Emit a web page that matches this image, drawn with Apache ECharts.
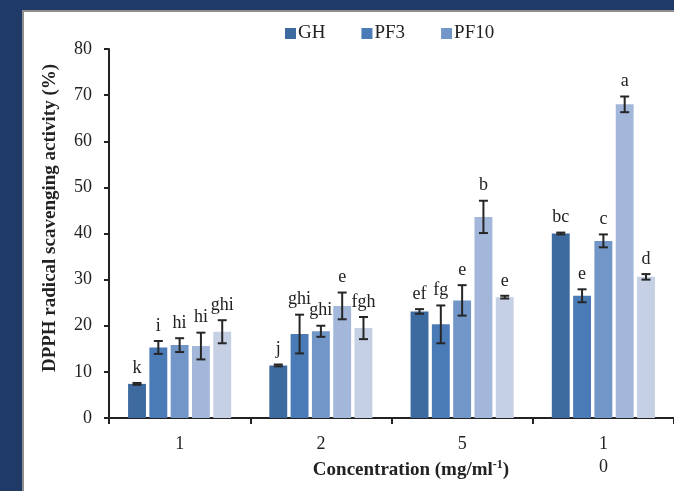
<!DOCTYPE html>
<html>
<head>
<meta charset="utf-8">
<script src="https://cdn.jsdelivr.net/npm/echarts@6/dist/echarts.min.js"></script>
<style>
html,body{margin:0;padding:0;background:#1f3a66;}
#chart{width:674px;height:491px;}
</style>
</head>
<body>
<div id="chart"></div>
<script>
// ---- data ----
const categories = ['1', '2', '5', '10'];
const tickLabels = ['1', '2', '5', '1\n0'];
const seriesNames = ['GH', 'PF3', 'PF10', 'Series 4', 'Series 5'];
const legendNames = ['GH', 'PF3', 'PF10'];
const ghValues = [7.4, 11.4, 23.1, 40.0];
const ghErrors = [0.2, 0.2, 0.5, 0.2];
const ghLetters = ['k', 'j', 'ef', 'bc'];
const pf3Values = [15.3, 18.2, 20.3, 26.5];
const pf3Errors = [1.4, 4.2, 4.1, 1.4];
const pf3Letters = ['i', 'ghi', 'fg', 'e'];
const pf10Values = [15.8, 18.8, 25.5, 38.4];
const pf10Errors = [1.5, 1.2, 3.3, 1.4];
const pf10Letters = ['hi', 'ghi', 'e', 'c'];
const s4Values = [15.6, 24.3, 43.6, 68.0];
const s4Errors = [2.9, 2.9, 3.5, 1.7];
const s4Letters = ['hi', 'e', 'b', 'a'];
const s5Values = [18.7, 19.5, 26.2, 30.6];
const s5Errors = [2.5, 2.4, 0.3, 0.6];
const s5Letters = ['ghi', 'fgh', 'e', 'd'];
const yTicks = { min: 0, max: 80, interval: 10 };

// ---- styles ----
const colors = ['#3e6b9f', '#4a7bb7', '#7396c9', '#a3b7da', '#c5d0e5'];
const FONT = '"Liberation Serif", "Times New Roman", serif';
const BAR_CAT_GAP = 0.27, BAR_GAP = 0.19;

const allValues = [ghValues, pf3Values, pf10Values, s4Values, s5Values];
const allErrors = [ghErrors, pf3Errors, pf10Errors, s4Errors, s5Errors];
const allLetters = [ghLetters, pf3Letters, pf10Letters, s4Letters, s5Letters];

const barSeries = seriesNames.map((name, i) => ({
  name: name,
  type: 'bar',
  data: allValues[i],
  barGap: (BAR_GAP * 100) + '%',
  barCategoryGap: (BAR_CAT_GAP * 100) + '%',
  itemStyle: { color: colors[i] },
  z: 2
}));

const errData = [];
allValues.forEach((vals, s) => {
  vals.forEach((v, c) => errData.push([c, s, v, allErrors[s][c]]));
});

function renderErr(params, api) {
  const cat = api.value(0), s = api.value(1), mean = api.value(2), err = api.value(3);
  const band = api.size([1, 0])[0];
  const n = seriesNames.length;
  const bw = (band * (1 - BAR_CAT_GAP)) / (n + (n - 1) * BAR_GAP);
  const gap = bw * BAR_GAP;
  const total = n * bw + (n - 1) * gap;
  const center = api.coord([cat, 0])[0];
  const x = center - total / 2 + s * (bw + gap) + bw / 2;
  const yTop = api.coord([cat, mean + err])[1];
  const yBot = api.coord([cat, mean - err])[1];
  const st = { stroke: '#262626', lineWidth: 2 };
  const cap = 4.5;
  return {
    type: 'group',
    children: [
      { type: 'line', shape: { x1: x, y1: yTop, x2: x, y2: yBot }, style: st },
      { type: 'line', shape: { x1: x - cap, y1: yTop, x2: x + cap, y2: yTop }, style: st },
      { type: 'line', shape: { x1: x - cap, y1: yBot, x2: x + cap, y2: yBot }, style: st },
      { type: 'text', x: x, y: yTop - 6,
        style: { text: allLetters[s][cat], align: 'center', verticalAlign: 'bottom',
                 font: '18px ' + FONT, fill: '#222' } }
    ]
  };
}

const chart = echarts.init(document.getElementById('chart'), null, { renderer: 'canvas' });
chart.setOption({
  backgroundColor: '#1f3a66',
  animation: false,
  graphic: {
    elements: [
      { type: 'rect', z: -10, shape: { x: 23, y: 11, width: 700, height: 520 },
        style: { fill: '#ffffff', stroke: '#8f8f8f', lineWidth: 2 } },
      { type: 'text', z: 100, x: 50, y: 218, rotation: Math.PI / 2,
        style: { text: 'DPPH radical scavenging activity (%)', align: 'center', verticalAlign: 'middle',
                 font: 'bold 19px ' + FONT, fill: '#222' } },
      { type: 'text', z: 100, x: 411, y: 470,
        style: { text: '{b|Concentration (mg/ml}{s|-1}{b|)}', align: 'center', verticalAlign: 'middle',
                 rich: {
                   b: { fontFamily: FONT, fontWeight: 'bold', fontSize: 19, fill: '#222', lineHeight: 22 },
                   s: { fontFamily: FONT, fontWeight: 'bold', fontSize: 12, fill: '#222', verticalAlign: 'top' }
                 } } }
    ]
  },
  legend: {
    data: legendNames,
    left: 280,
    top: 19,
    icon: 'rect',
    itemWidth: 11,
    itemHeight: 11,
    itemGap: 36,
    textStyle: { fontFamily: FONT, fontSize: 19, color: '#222', padding: [0, 0, 0, -3] }
  },
  grid: { left: 109, top: 49, width: 566, height: 369, containLabel: false },
  xAxis: {
    type: 'category',
    data: categories,
    axisLine: { lineStyle: { color: '#222', width: 2 } },
    axisTick: { show: true, interval: 0, length: 6, lineStyle: { color: '#222', width: 2 } },
    axisLabel: { interval: 0, margin: 15, fontFamily: FONT, fontSize: 18, color: '#222', lineHeight: 23,
                 formatter: (v, i) => tickLabels[i] },
    splitLine: { show: false }
  },
  yAxis: {
    type: 'value',
    min: yTicks.min, max: yTicks.max, interval: yTicks.interval,
    axisLine: { show: true, lineStyle: { color: '#222', width: 2 } },
    axisTick: { show: true, length: 5, lineStyle: { color: '#222', width: 2 } },
    axisLabel: { margin: 17, fontFamily: FONT, fontSize: 18, color: '#222' },
    splitLine: { show: false }
  },
  series: barSeries.concat([{
    type: 'custom',
    name: 'err',
    renderItem: renderErr,
    data: errData,
    encode: { x: 0, y: 2 },
    z: 5,
    silent: true
  }])
});
</script>
</body>
</html>
